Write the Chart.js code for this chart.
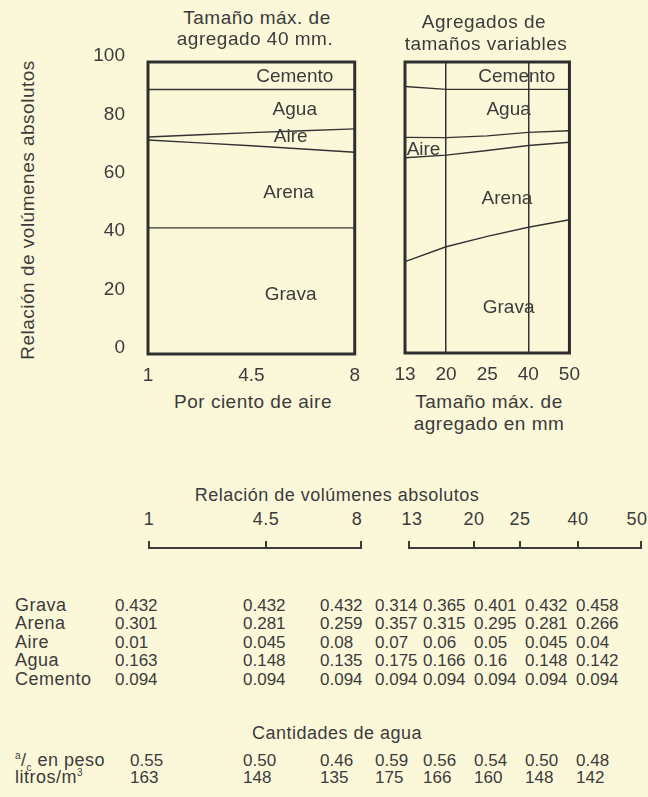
<!DOCTYPE html>
<html>
<head>
<meta charset="utf-8">
<script src="https://cdn.jsdelivr.net/npm/chart.js@4.4.1/dist/chart.umd.min.js"></script>
<style>
    body { margin: 0; background: #fbf8da; }
    #page {
        position: relative; width: 648px; height: 797px; overflow: hidden;
        font-family: "Liberation Sans", Arial, sans-serif; color: #3b3b3b;
    }
    .txt { position: absolute; white-space: nowrap; line-height: 1; letter-spacing: 0.5px; }
    .num { letter-spacing: 0; }
    .bracket { position: absolute; border: 2px solid #3b3b3b; border-top: none; height: 6px; }
    .tick { position: absolute; width: 2px; height: 6px; background: #3b3b3b; }
    sup, sub { font-size: 10px; line-height: 0; }
    #leftWrap { position: absolute; left: 90px; top: 38px; width: 280px; height: 352px; }
    #rightWrap { position: absolute; left: 380px; top: 50px; width: 210px; height: 340px; }
</style>
</head>
<body>
<div id="page">
    <div id="leftWrap"><canvas id="left-chart"></canvas></div>
    <div id="rightWrap"><canvas id="right-chart"></canvas></div>
</div>
<script>
// Datos: relación de volúmenes absolutos (3 columnas por ciento de aire, 5 columnas tamaño de agregado)
const airLabels = ['1', '4.5', '8'];
const sizeLabels = ['13', '20', '25', '40', '50'];
const rowNames = ['Grava', 'Arena', 'Aire', 'Agua', 'Cemento'];
const grava = [0.432, 0.432, 0.432, 0.314, 0.365, 0.401, 0.432, 0.458];
const arena = [0.301, 0.281, 0.259, 0.357, 0.315, 0.295, 0.281, 0.266];
const aire = [0.01, 0.045, 0.08, 0.07, 0.06, 0.05, 0.045, 0.04];
const agua = [0.163, 0.148, 0.135, 0.175, 0.166, 0.16, 0.148, 0.142];
const cemento = [0.094, 0.094, 0.094, 0.094, 0.094, 0.094, 0.094, 0.094];
// Cantidades de agua
const relacionAC = [0.55, 0.50, 0.46, 0.59, 0.56, 0.54, 0.50, 0.48];
const litrosM3 = [163, 148, 135, 175, 166, 160, 148, 142];
const yTicks = [0, 20, 40, 60, 80, 100];

const INK = '#3b3b3b';
const FONT = '"Liberation Sans", Arial, sans-serif';
const page = document.getElementById('page');

function addText(html, x, y, size, align, cls) {
    const d = document.createElement('div');
    d.className = 'txt' + (cls ? ' ' + cls : '');
    d.innerHTML = html;
    d.style.left = x + 'px';
    d.style.top = y + 'px';
    d.style.fontSize = (size || 19) + 'px';
    d.style.transform = align === 'left' ? 'translate(0,-50%)' : 'translate(-50%,-50%)';
    page.appendChild(d);
    return d;
}

// --- Marco y etiquetas de zonas ---
const framePlugin = {
    id: 'frame',
    afterDatasetsDraw(chart) {
        const { ctx, chartArea: a } = chart;
        ctx.save();
        ctx.strokeStyle = '#2e2e2e';
        ctx.lineWidth = 3;
        ctx.strokeRect(a.left, a.top, a.right - a.left, a.bottom - a.top);
        ctx.restore();
    }
};

const zoneLabelsPlugin = {
    id: 'zoneLabels',
    afterDraw(chart, args, opts) {
        const { ctx, scales: { x, y } } = chart;
        ctx.save();
        ctx.font = '19px ' + FONT;
        ctx.fillStyle = INK;
        ctx.textBaseline = 'middle';
        (opts.items || []).forEach(it => {
            ctx.textAlign = it.align || 'center';
            ctx.fillText(it.text, x.getPixelForDecimal(it.fx), y.getPixelForValue(it.y));
        });
        ctx.restore();
    }
};

function buildDatasets(from, to, tension) {
    const series = [grava, arena, aire, agua, cemento];
    return series.map((s, i) => ({
        label: rowNames[i],
        data: s.slice(from, to).map(v => v * 100),
        borderColor: '#333',
        borderWidth: i === 4 ? 0 : 1.4,
        pointRadius: 0,
        fill: false,
        tension
    }));
}

const leftChart = new Chart(document.getElementById('left-chart'), {
    type: 'line',
    data: { labels: airLabels, datasets: buildDatasets(0, 3, 0.3) },
    plugins: [framePlugin, zoneLabelsPlugin],
    options: {
        responsive: true,
        maintainAspectRatio: false,
        animation: false,
        layout: { padding: { top: 24, right: 8, left: 0, bottom: 0 } },
        plugins: {
            legend: { display: false },
            tooltip: { enabled: false },
            zoneLabels: {
                items: [
                    { text: 'Cemento', fx: 0.71, y: 94.9 },
                    { text: 'Agua', fx: 0.71, y: 83.6 },
                    { text: 'Aire', fx: 0.69, y: 74.3 },
                    { text: 'Arena', fx: 0.68, y: 55.1 },
                    { text: 'Grava', fx: 0.69, y: 20.2 }
                ]
            }
        },
        scales: {
            x: {
                grid: { display: false, drawTicks: false },
                border: { display: false },
                ticks: { color: INK, font: { size: 19, family: FONT }, padding: 10, maxRotation: 0 },
                afterFit: s => { s.height = 36; }
            },
            y: {
                stacked: true,
                min: 0,
                max: 100,
                afterBuildTicks: s => { s.ticks = yTicks.map(v => ({ value: v })); },
                grid: { display: false, drawTicks: false },
                border: { display: false },
                ticks: { color: INK, font: { size: 19, family: FONT }, padding: 23, labelOffset: -6 },
                afterFit: s => { s.width = 58; s.paddingTop = 0; s.paddingBottom = 0; }
            }
        }
    }
});

const rightChart = new Chart(document.getElementById('right-chart'), {
    type: 'line',
    data: { labels: sizeLabels, datasets: buildDatasets(3, 8, 0) },
    plugins: [framePlugin, zoneLabelsPlugin],
    options: {
        responsive: true,
        maintainAspectRatio: false,
        animation: false,
        layout: { padding: { top: 12, right: 19, left: 25, bottom: 0 } },
        plugins: {
            legend: { display: false },
            tooltip: { enabled: false },
            zoneLabels: {
                items: [
                    { text: 'Cemento', fx: 0.68, y: 94.8 },
                    { text: 'Agua', fx: 0.63, y: 83.5 },
                    { text: 'Aire', fx: 0.01, y: 69.8, align: 'left' },
                    { text: 'Arena', fx: 0.62, y: 52.9 },
                    { text: 'Grava', fx: 0.63, y: 15.5 }
                ]
            }
        },
        scales: {
            x: {
                grid: {
                    drawTicks: false,
                    lineWidth: 1.5,
                    color: c => (c.index === 1 || c.index === 3) ? '#333' : 'rgba(0,0,0,0)'
                },
                border: { display: false },
                ticks: { color: INK, font: { size: 19, family: FONT }, padding: 10, maxRotation: 0 },
                afterFit: s => { s.height = 37; }
            },
            y: {
                display: false,
                stacked: true,
                min: 0,
                max: 100
            }
        }
    }
});

// --- Títulos de los gráficos ---
addText('Tamaño máx. de', 257, 17);
addText('agregado 40 mm.', 255, 38);
addText('Agregados de', 484, 21);
addText('tamaños variables', 486, 43);
const yTitle = addText('Relación de volúmenes absolutos', 27, 210, 19);
yTitle.style.transform = 'translate(-50%,-50%) rotate(-90deg)';
addText('Por ciento de aire', 253, 401);
addText('Tamaño máx. de', 489, 401);
addText('agregado en mm', 489, 423);

// --- Escala inferior ---
addText('Relación de volúmenes absolutos', 337, 495, 18);
const scaleLabels = airLabels.concat(sizeLabels);
const scaleX = [149, 266, 357, 412, 474, 520, 578, 637];
scaleLabels.forEach((l, i) => addText(l, scaleX[i], 519, 18));

function bracket(x1, x2, ticks) {
    const b = document.createElement('div');
    b.className = 'bracket';
    b.style.left = x1 + 'px';
    b.style.top = '541px';
    b.style.width = (x2 - x1) + 'px';
    page.appendChild(b);
    ticks.forEach(tx => {
        const t = document.createElement('div');
        t.className = 'tick';
        t.style.left = (tx - 1) + 'px';
        t.style.top = '541px';
        page.appendChild(t);
    });
}
bracket(148, 358, [266]);
bracket(408, 638, [474, 520, 578]);

// --- Tabla ---
const colX = [115, 243, 320, 375, 423, 474, 525, 576];
const rowY = [605, 623, 642, 660, 679];
[grava, arena, aire, agua, cemento].forEach((row, r) => {
    addText(rowNames[r], 15, rowY[r], 18, 'left');
    row.forEach((v, c) => addText(String(v), colX[c], rowY[r], 17, 'left', 'num'));
});

addText('Cantidades de agua', 337, 733, 18);
const colX2 = [130, 243, 320, 375, 423, 474, 525, 576];
addText('<sup>a</sup>/<sub>c</sub> en peso', 15, 760, 18, 'left');
relacionAC.forEach((v, c) => addText(v.toFixed(2), colX2[c], 760, 17, 'left', 'num'));
addText('litros/m<sup>3</sup>', 15, 777, 18, 'left');
litrosM3.forEach((v, c) => addText(String(v), colX2[c], 777, 17, 'left', 'num'));
</script>
</body>
</html>
